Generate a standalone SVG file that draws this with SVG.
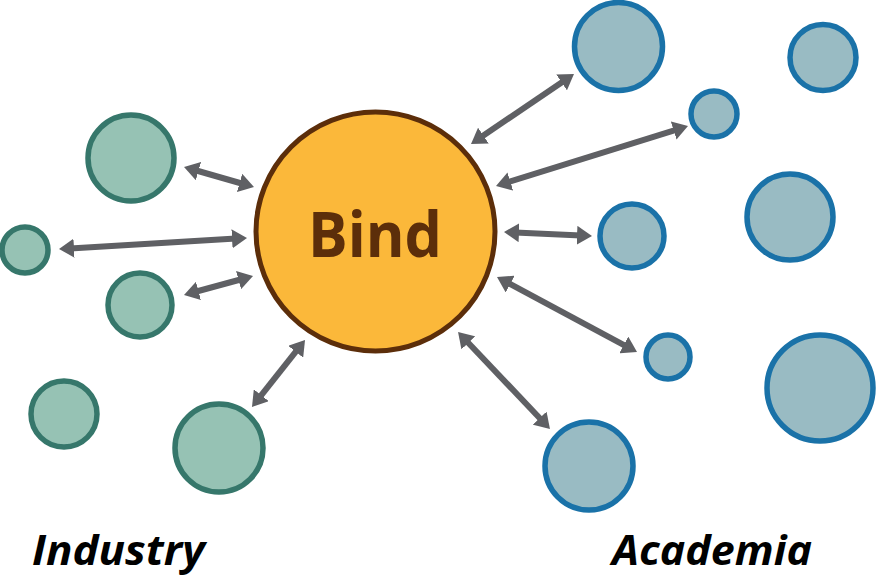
<svg xmlns="http://www.w3.org/2000/svg" width="877" height="578" viewBox="0 0 877 578">
<style>
.ind{fill:#96c2b4;stroke:#36776b;stroke-width:5.5}
.aca{fill:#99bbc3;stroke:#1a72a8;stroke-width:5.5}
.con{stroke:#5f6064;stroke-width:6;fill:none;marker-start:url(#ah);marker-end:url(#ah)}
.lbl{font-family:"Open Sans","Liberation Sans",sans-serif;font-weight:bold;font-style:italic;font-size:42px;fill:#000}
</style>
<defs>
<marker id="ah" viewBox="0 0 15 19" refX="4" refY="9.5" markerWidth="15" markerHeight="19" markerUnits="userSpaceOnUse" orient="auto-start-reverse">
<path d="M0,0 L15,9.5 L0,19 z" fill="#5f6064"/>
</marker>
</defs>
<rect width="877" height="578" fill="#ffffff"/>
<g id="connectors">
<line class="con" x1="194.6" y1="170" x2="243.4" y2="184"/>
<line class="con" x1="70" y1="248.4" x2="236" y2="238.6"/>
<line class="con" x1="194.6" y1="292" x2="242.4" y2="279"/>
<line class="con" x1="258.8" y1="398.4" x2="298.2" y2="348.6"/>
<line class="con" x1="480.1" y1="137.8" x2="564.9" y2="80.2"/>
<line class="con" x1="506.5" y1="182.7" x2="677.5" y2="129.3"/>
<line class="con" x1="515" y1="232.5" x2="581" y2="235.5"/>
<line class="con" x1="506.7" y1="282.2" x2="627.3" y2="346.8"/>
<line class="con" x1="465.6" y1="340" x2="542.4" y2="421"/>
</g>
<g id="bind">
<circle cx="375.5" cy="231.5" r="119.5" fill="#fbb83a" stroke="#5c2e0a" stroke-width="5"/>
<text x="375" y="256.5" text-anchor="middle" font-family="'Open Sans','Liberation Sans',sans-serif" font-weight="bold" font-size="62" fill="#5c2e0a" textLength="134" lengthAdjust="spacingAndGlyphs">Bind</text>
</g>
<g id="ind1"><circle class="ind" cx="131" cy="158" r="43"/></g>
<g id="ind2"><circle class="ind" cx="25" cy="250" r="23"/></g>
<g id="ind3"><circle class="ind" cx="140" cy="305" r="32"/></g>
<g id="ind4"><circle class="ind" cx="64" cy="414" r="33"/></g>
<g id="ind5"><circle class="ind" cx="219" cy="448" r="44"/></g>
<g id="aca1"><circle class="aca" cx="618.5" cy="46.5" r="44"/></g>
<g id="aca2"><circle class="aca" cx="823" cy="57.5" r="33"/></g>
<g id="aca3"><circle class="aca" cx="714" cy="114" r="23"/></g>
<g id="aca4"><circle class="aca" cx="790" cy="217" r="43"/></g>
<g id="aca5"><circle class="aca" cx="632" cy="236" r="32"/></g>
<g id="aca6"><circle class="aca" cx="668" cy="357" r="22"/></g>
<g id="aca7"><circle class="aca" cx="820" cy="388" r="53"/></g>
<g id="aca8"><circle class="aca" cx="589" cy="466" r="44"/></g>
<g id="labels">
<text class="lbl" x="32" y="565" textLength="173" lengthAdjust="spacingAndGlyphs">Industry</text>
<text class="lbl" x="612" y="565" textLength="200" lengthAdjust="spacingAndGlyphs">Academia</text>
</g>
</svg>
